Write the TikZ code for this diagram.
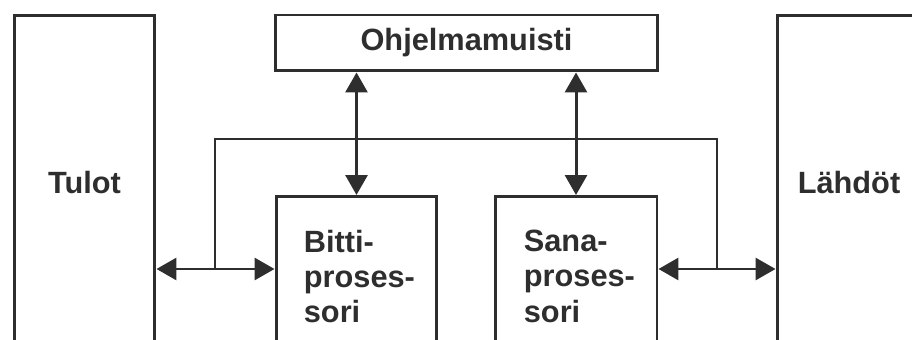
\documentclass[tikz,border=0pt]{standalone}
\usepackage{fontspec}
\setmainfont{Liberation Sans}
\usetikzlibrary{arrows.meta}

\colorlet{ink}{black!82}
\newcommand{\boxfont}{\bfseries\fontsize{17.5}{20}\selectfont}

\begin{document}
\begin{tikzpicture}[
    x=0.02cm, y=-0.02cm,
    block/.style={
        rectangle,
        draw=ink,
        line width=1.7pt,
        inner sep=0pt,
        text=ink,
        font=\boxfont
    },
    boxtext/.style={
        anchor=north west,
        inner sep=0pt,
        align=left,
        text=ink,
        font=\boxfont
    },
    link/.style={
        {Triangle[length=0.4cm,width=0.44cm]}-{Triangle[length=0.4cm,width=0.44cm]},
        draw=ink,
        line width=1.7pt
    },
    bus/.style={
        draw=ink,
        line width=1.2pt
    }
]

\useasboundingbox (0,0) rectangle (912,340);
\clip (0,0) rectangle (912,340);

% side blocks run past the lower edge
\node[block, minimum width=2.82cm, minimum height=6.72cm] (tulot) at (84.5,183) {Tulot};
\node[block, minimum width=2.88cm, minimum height=6.72cm] (lahdot) at (849,183) {Lähdöt};

\node[block, minimum width=7.66cm, minimum height=1.12cm] (muisti) at (466.5,43) {Ohjelmamuisti};

\node[block, anchor=north, minimum width=3.22cm, minimum height=4cm] (bitti) at (356.5,195) {};
\node[block, anchor=north, minimum width=3.24cm, minimum height=4cm] (sana) at (576,195) {};

\node[boxtext] (bittitext) at ([shift={(29,35)}]bitti.north west) {Bitti-\\proses-\\sori};
\node[boxtext] (sanatext) at ([shift={(30,35)}]sana.north west) {Sana-\\proses-\\sori};

% common bus
\coordinate (busL) at (215,269);
\coordinate (busR) at (717,269);
\draw[bus] (busL) -- (215,139) -- (717,139) -- (busR);

\draw[link] (tulot.east |- busL) -- (bitti.west |- busL);
\draw[link] (sana.east |- busR) -- (lahdot.west |- busR);

\draw[link] (bitti.north |- muisti.south) -- (bitti.north);
\draw[link] (sana.north |- muisti.south) -- (sana.north);

\end{tikzpicture}
\end{document}
